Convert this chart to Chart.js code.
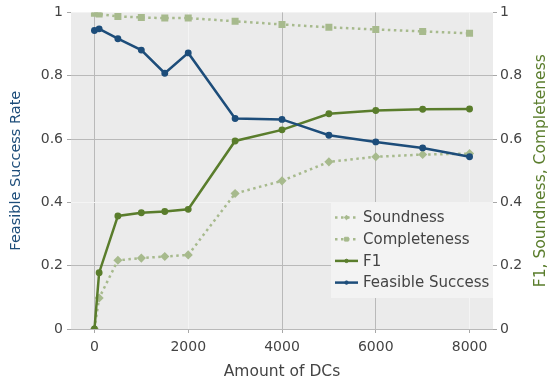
<!DOCTYPE html>
<html>
<head>
<meta charset="utf-8">
<script src="https://cdn.jsdelivr.net/npm/chart.js"></script>
<style>
  body { margin: 0; background: #fff; }
  canvas { display: block; }
</style>
</head>
<body>
<canvas id="chart" width="548" height="379"></canvas>
<script>
// data
var dcAmounts = [0, 100, 500, 1000, 1500, 2000, 3000, 4000, 5000, 6000, 7000, 8000];
var soundness = [0, 0.098, 0.217, 0.224, 0.229, 0.234, 0.428, 0.468, 0.528, 0.544, 0.551, 0.554];
var completeness = [0.997, 0.995, 0.987, 0.984, 0.982, 0.982, 0.972, 0.962, 0.953, 0.946, 0.940, 0.934];
var f1 = [0, 0.178, 0.357, 0.367, 0.371, 0.378, 0.594, 0.629, 0.680, 0.690, 0.694, 0.695];
var feasibleSuccess = [0.943, 0.948, 0.917, 0.881, 0.808, 0.872, 0.665, 0.662, 0.612, 0.591, 0.572, 0.544];
var xTicks = [0, 2000, 4000, 6000, 8000];
var yTicks = [0, 0.2, 0.4, 0.6, 0.8, 1];

var blue = '#1d4d7a';
var green = '#5a7d2c';
var pale = '#a7ba8d';
var textColor = '#444';
var font = { family: 'DejaVu Sans', size: 14 };
var titleFont = { family: 'DejaVu Sans', size: 15.5 };
var rightTitle = 'F1, Soundness, Completeness';

function pts(values) {
    return dcAmounts.map(function (x, i) { return { x: x, y: values[i] }; });
}

// plotly-ish gridlines: some lines come out light, some grey
function xGrid(ctx) {
    var v = ctx.tick && ctx.tick.value;
    return (v === 2000 || v === 8000) ? '#f4f4f4' : '#b9b9b9';
}
function yGrid(ctx) {
    var v = ctx.tick && ctx.tick.value;
    if (v === 1) return 'rgba(0,0,0,0)';
    return Math.abs(v - 0.4) < 1e-6 ? '#f4f4f4' : '#b9b9b9';
}

// background of the plot area
var plotBg = {
    id: 'plotBg',
    beforeDraw: function (chart) {
        var a = chart.chartArea, ctx = chart.ctx;
        ctx.save();
        ctx.fillStyle = '#ebebeb';
        ctx.fillRect(a.left, a.top, a.right - a.left, a.bottom - a.top);
        ctx.restore();
    }
};

// right axis title reads bottom-to-top, like the left one
var rightTitlePlugin = {
    id: 'rightTitle',
    afterDraw: function (chart) {
        var a = chart.chartArea, ctx = chart.ctx;
        ctx.save();
        ctx.translate(541, (a.top + a.bottom) / 2);
        ctx.rotate(-Math.PI / 2);
        ctx.fillStyle = green;
        ctx.font = '15.5px "DejaVu Sans"';
        ctx.textAlign = 'center';
        ctx.textBaseline = 'middle';
        ctx.fillText(rightTitle, 0, 0);
        ctx.restore();
    }
};

// legend box inside the plot, lower right
var legendBox = {
    id: 'legendBox',
    afterDatasetsDraw: function (chart) {
        var a = chart.chartArea, ctx = chart.ctx;
        var w = 162, h = 96;
        var x0 = a.right - w, y0 = a.bottom - 127;
        ctx.save();
        ctx.fillStyle = '#f3f3f3';
        ctx.fillRect(x0, y0, w, h);
        var order = [3, 2, 1, 0];
        order.forEach(function (di, row) {
            var ds = chart.data.datasets[di];
            var y = y0 + 15.5 + row * 21.7;
            ctx.strokeStyle = ds.borderColor;
            ctx.lineWidth = ds.borderWidth;
            ctx.setLineDash(ds.borderDash || []);
            ctx.beginPath();
            ctx.moveTo(x0 + 4, y);
            ctx.lineTo(x0 + 27, y);
            ctx.stroke();
            ctx.setLineDash([]);
            ctx.fillStyle = ds.pointBackgroundColor;
            ctx.strokeStyle = ds.pointBorderColor;
            ctx.lineWidth = 1;
            Chart.helpers.drawPoint(ctx, {
                pointStyle: ds.pointStyle,
                radius: ds.pointRadius - 0.5,
                rotation: 0,
                borderWidth: 1
            }, x0 + 15.5, y);
            ctx.fillStyle = textColor;
            ctx.font = '15px "DejaVu Sans"';
            ctx.textBaseline = 'middle';
            ctx.fillText(ds.label, x0 + 32, y + 1);
        });
        ctx.restore();
    }
};

new Chart(document.getElementById('chart'), {
    type: 'line',
    data: {
        datasets: [
            {
                label: 'Feasible Success',
                data: pts(feasibleSuccess),
                yAxisID: 'yLeft',
                borderColor: blue,
                backgroundColor: blue,
                pointBackgroundColor: blue,
                pointBorderColor: blue,
                borderWidth: 2.5,
                pointRadius: 2.2,
                pointStyle: 'circle',
                order: 1
            },
            {
                label: 'F1',
                data: pts(f1),
                yAxisID: 'yRight',
                borderColor: green,
                backgroundColor: green,
                pointBackgroundColor: green,
                pointBorderColor: green,
                borderWidth: 2.5,
                pointRadius: 2.2,
                pointStyle: 'circle',
                order: 2
            },
            {
                label: 'Completeness',
                data: pts(completeness),
                yAxisID: 'yRight',
                borderColor: pale,
                backgroundColor: pale,
                pointBackgroundColor: pale,
                pointBorderColor: pale,
                borderWidth: 2.5,
                borderDash: [2.5, 3.5],
                pointRadius: 3.2,
                pointStyle: 'rect',
                order: 3
            },
            {
                label: 'Soundness',
                data: pts(soundness),
                yAxisID: 'yRight',
                borderColor: pale,
                backgroundColor: pale,
                pointBackgroundColor: pale,
                pointBorderColor: pale,
                borderWidth: 2.5,
                borderDash: [2.5, 3.5],
                pointRadius: 2.8,
                pointStyle: 'rectRot',
                order: 4
            }
        ]
    },
    options: {
        responsive: false,
        animation: false,
        layout: { padding: { top: 12, left: 0, right: 0, bottom: 0 } },
        plugins: {
            legend: { display: false },
            tooltip: { enabled: false }
        },
        scales: {
            x: {
                type: 'linear',
                min: -500,
                max: 8500,
                afterBuildTicks: function (s) { s.ticks = xTicks.map(function (v) { return { value: v }; }); },
                afterFit: function (s) { s.height = 50; },
                grid: { color: xGrid, lineWidth: 1, drawTicks: true, tickLength: 4, tickColor: '#a8a8a8' },
                border: { display: false },
                ticks: {
                    color: textColor, font: font, padding: 6, maxRotation: 0,
                    callback: function (v) { return String(v); }
                },
                title: {
                    display: true, text: 'Amount of DCs', color: textColor, font: titleFont,
                    padding: { top: 0, bottom: -2 }
                }
            },
            yLeft: {
                type: 'linear',
                position: 'left',
                min: 0,
                max: 1,
                afterBuildTicks: function (s) { s.ticks = yTicks.map(function (v) { return { value: v }; }); },
                afterFit: function (s) { s.width = 71; },
                grid: { color: yGrid, lineWidth: 1, drawTicks: true, tickLength: 4, tickColor: '#a8a8a8' },
                border: { display: false },
                ticks: {
                    color: textColor, font: font, padding: 4,
                    callback: function (v) { return String(+v.toFixed(1)); }
                },
                title: {
                    display: true, text: 'Feasible Success Rate', color: blue,
                    font: { family: 'DejaVu Sans', size: 14.5 },
                    padding: { top: 8, bottom: 0 }
                }
            },
            yRight: {
                type: 'linear',
                position: 'right',
                min: 0,
                max: 1,
                afterBuildTicks: function (s) { s.ticks = yTicks.map(function (v) { return { value: v }; }); },
                afterFit: function (s) { s.width = 55; },
                grid: { drawOnChartArea: false, drawTicks: true, tickLength: 4, tickColor: '#a8a8a8' },
                border: { display: false },
                ticks: {
                    color: textColor, font: font, padding: 3,
                    callback: function (v) { return String(+v.toFixed(1)); }
                },
                title: { display: false }
            }
        }
    },
    plugins: [plotBg, legendBox, rightTitlePlugin]
});
</script>
</body>
</html>
